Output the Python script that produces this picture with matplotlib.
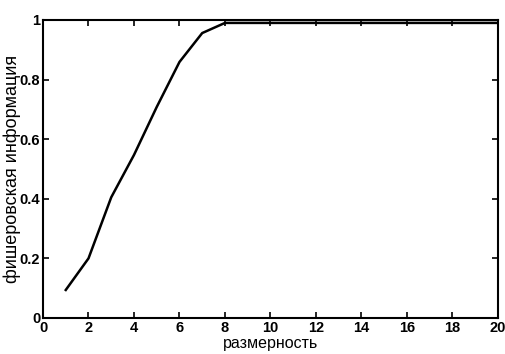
import matplotlib
matplotlib.use("Agg")
import matplotlib.pyplot as plt
from matplotlib.ticker import FuncFormatter

# data
dims = [1, 2, 3, 4, 5, 6, 7, 8, 9, 10, 11, 12, 13, 14, 15, 16, 17, 18, 19, 20]
fisher_info = [0.094, 0.2, 0.405, 0.547, 0.708, 0.859, 0.956, 0.99, 0.99, 0.99,
               0.99, 0.99, 0.99, 0.99, 0.99, 0.99, 0.99, 0.99, 0.99, 0.99]

x_ticks = list(range(0, 21, 2))
y_ticks = [0, 0.2, 0.4, 0.6, 0.8, 1]

tick_font = ["Liberation Sans Narrow", "Liberation Sans", "DejaVu Sans"]
label_font = ["Liberation Sans", "DejaVu Sans"]

fig = plt.figure(figsize=(5.06, 3.54), dpi=100)
ax = fig.add_axes([0.085, 0.1017, 0.899, 0.842])

ax.plot(dims, fisher_info, color="black", linewidth=1.8)

ax.set_xlim(0, 20)
ax.set_ylim(0, 1)
ax.set_xticks(x_ticks)
ax.set_yticks(y_ticks)
ax.yaxis.set_major_formatter(FuncFormatter(lambda v, p: f"{v:g}"))
ax.tick_params(direction="in", top=True, right=True, length=4, width=1.2, pad=2)
for lab in ax.get_xticklabels() + ax.get_yticklabels():
    lab.set_family(tick_font)
    lab.set_fontweight("bold")
    lab.set_fontsize(10.5)
for s in ax.spines.values():
    s.set_linewidth(1.5)

ax.set_xlabel("размерность", family=label_font, fontsize=11.5, labelpad=1)
ax.set_ylabel("фишеровская информация", family=label_font, fontsize=13, labelpad=-1)

fig.savefig("out.png", dpi=100)
